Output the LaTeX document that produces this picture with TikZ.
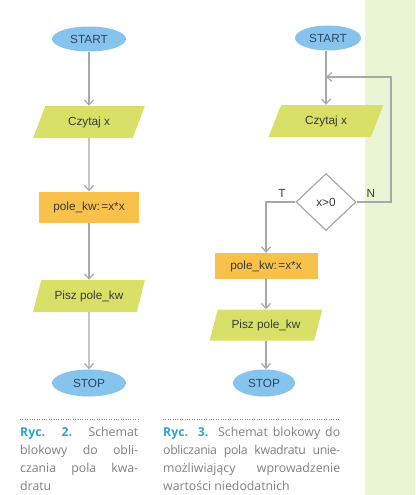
\documentclass[tikz,border=0pt]{standalone}
\usepackage{fontspec}
\setmainfont{Liberation Sans}
\newfontfamily\capfont{Open Sans}
\usetikzlibrary{shapes.geometric,arrows.meta}
\definecolor{termblue}{HTML}{86C4EE}
\definecolor{termtext}{HTML}{2E4763}
\definecolor{iogreen}{HTML}{D8E068}
\definecolor{procorange}{HTML}{F8C24A}
\definecolor{linegray}{HTML}{A8A8A8}
\definecolor{textgray}{HTML}{3A3A3A}
\definecolor{capgray}{HTML}{808080}
\definecolor{rycblue}{HTML}{2EA2D8}
\definecolor{bandgreen}{HTML}{EAF5D4}
\tikzset{
  term/.style={ellipse, fill=termblue, text=termtext, minimum width=74pt, minimum height=25pt, inner sep=0pt},
  io/.style={trapezium, trapezium left angle=62, trapezium right angle=118, trapezium stretches=true,
    fill=iogreen, minimum width=112pt, minimum height=32pt, inner sep=0pt},
  proc/.style={rectangle, fill=procorange, minimum width=100pt, minimum height=31pt, inner sep=0pt},
  decide/.style={diamond, draw=linegray, line width=1.2pt, fill=white, minimum width=60pt, minimum height=57pt, inner sep=0pt},
  arr/.style={draw=linegray, line width=1.2pt, -{Straight Barb[length=5pt,width=9pt]}},
  capt/.style={font=\capfont\fontsize{12.3}{17.7}\selectfont, text=capgray, align=left, inner sep=0pt},
}
\begin{document}
\begin{tikzpicture}[x=1pt, y=-1pt, every node/.style={font=\fontsize{11.8}{13}\selectfont, text=textgray}]  % schematy blokowe
\useasboundingbox (0,0) rectangle (415,495);
\fill[bandgreen] (365,0) rectangle (415,495);
% schemat 1
\node[term] (start1) at (89,39) {START};
\node[io] (read1) at (89,122) {Czytaj x};
\node[proc] (calc1) at (89,207) {pole\_kw:\kern1.5pt=x*x};
\node[io] (write1) at (89,296) {Pisz pole\_kw};
\node[term, minimum height=27pt] (stop1) at (89,383) {STOP};
\draw[arr] (start1) -- (read1);
\draw[arr] (read1) -- (calc1);
\draw[arr] (calc1) -- (write1);
\draw[arr] (write1) -- (stop1);
% schemat 2
\node[term, minimum width=66pt] (start2) at (328,38) {START};
\coordinate (merge) at (326,77);
\coordinate (loop) at (391,77);
\node[io, minimum width=115pt] (read2) at (326,121) {Czytaj x};
\node[decide] (dec) at (326,202) {x>0};
\node[proc, minimum width=103pt, minimum height=26pt] (calc2) at (266,266) {pole\_kw:\kern1.5pt=x*x};
\node[io, minimum width=113pt, minimum height=31pt] (write2) at (266,325) {Pisz pole\_kw};
\node[term, minimum width=62pt, minimum height=27pt] (stop2) at (264,383) {STOP};
\draw[arr] (start2.south -| merge) -- (read2.north -| merge);
\draw[arr] (dec.east) -| (loop) -- (merge);
\draw[arr] (dec.west) -| (calc2.north);
\draw[arr] (calc2) -- (write2.north -| calc2);
\draw[arr] (write2.south -| calc2) -- (stop2.north -| calc2);
\node (tlab) at (282,193) {T};
\node (nlab) at (371,193) {N};
% podpisy
\draw[dotted, capgray] (20,419) -- (138,419);
\draw[dotted, capgray] (163,419) -- (340,419);
\node[capt, anchor=base west] (cap1) at (20,490) {\makebox[118pt][s]{\textcolor{rycblue}{\bfseries Ryc. 2.} Schemat}\\
  \makebox[118pt][s]{blokowy do obli-}\\ \makebox[118pt][s]{czania pola kwa-}\\ dratu};
\node[capt, anchor=base west] (cap2) at (163,490) {\makebox[177pt][s]{\textcolor{rycblue}{\bfseries Ryc. 3.} Schemat blokowy do}\\
  \makebox[177pt][s]{\addfontfeatures{LetterSpace=-3}obliczania pola kwadratu unie-}\\ \makebox[177pt][s]{możliwiający wprowadzenie}\\ wartości niedodatnich};
\end{tikzpicture}
\end{document}
